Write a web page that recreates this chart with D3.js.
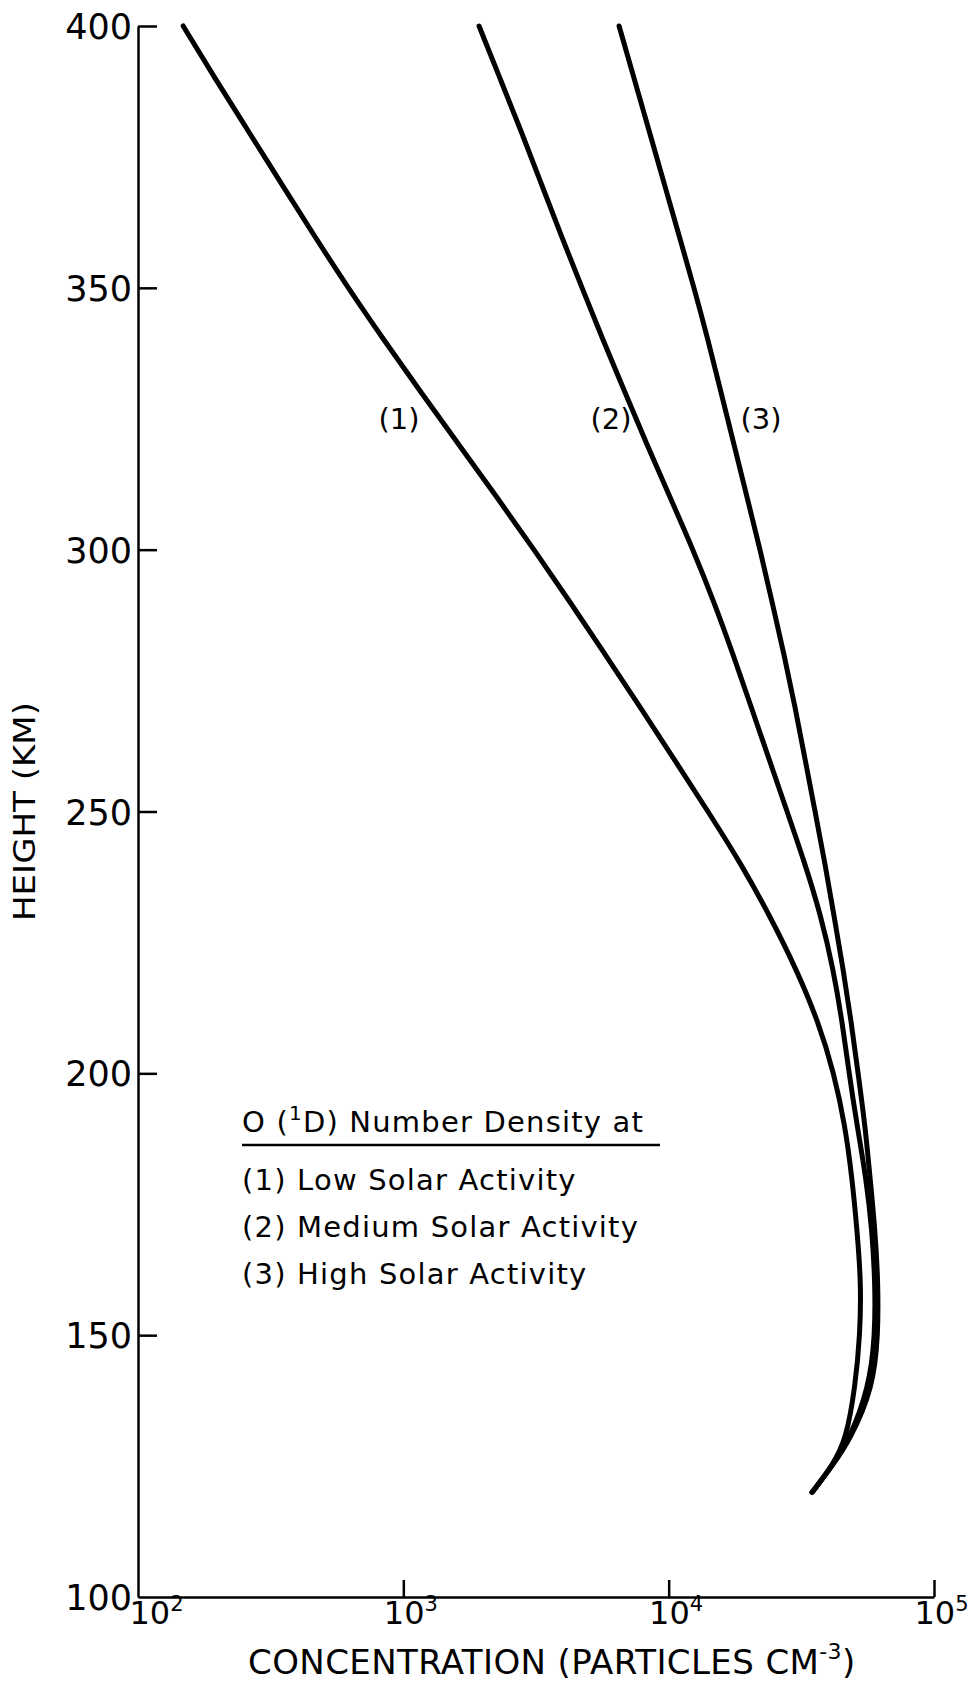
<!DOCTYPE html>
<html>
<head>
<meta charset="utf-8">
<script src="https://cdn.jsdelivr.net/npm/d3@7"></script>
<style>
  body { margin: 0; background: #ffffff; }
  svg text { font-family: "DejaVu Sans", sans-serif; fill: #000; }
</style>
</head>
<body>
<div id="grafiekContainer"></div>
<script>

var hoogtes = [400, 390, 380, 370, 360, 350, 340, 330, 320, 310, 300, 290, 280, 270, 260,
               250, 240, 230, 220, 210, 200, 190, 180, 170, 160, 150, 140, 130, 125, 120];

// concentratie (deeltjes per cm3) per curve
var laag = [148, 195, 260, 346, 461, 619, 846, 1166, 1622, 2255, 3109, 4250, 5758, 7803, 10480,
            14080, 18750, 24110, 30210, 36570, 42020, 46220, 49120, 51300, 53110, 52650, 50420, 46630, 41300, 34720];
var midden = [1929, 2314, 2777, 3304, 3930, 4717, 5659, 6849, 8292, 10120, 12360, 14830, 17490, 20450, 23900,
              27940, 32660, 37530, 41660, 45040, 47860, 51300, 55470, 58440, 59980, 59980, 56930, 47860, 41300, 34720];
var hoog = [6503, 7407, 8437, 9609, 10940, 12470, 14080, 15760, 17640, 19750, 22110, 24530, 27220, 29950, 32660,
            35630, 38860, 42020, 45430, 48700, 51750, 55000, 57430, 59980, 61560, 61560, 58950, 48280, 41300, 34720];

var hoogteTicks = [100, 150, 200, 250, 300, 350, 400];
var concTicks = [1e2, 1e3, 1e4, 1e5];
var exponenten = ["2", "3", "4", "5"];

var curveNamen = ["(1)", "(2)", "(3)"];
var legendaRegels = ["(1) Low Solar Activity", "(2) Medium Solar Activity", "(3) High Solar Activity"];

var breedte = 972;
var hoogte = 1687;
var marge = {boven: 26, beneden: 90, rechts: 38, links: 138};
var grafiekBreedte = breedte - marge.links - marge.rechts;
var grafiekHoogte = hoogte - marge.boven - marge.beneden;

var svg = d3.select("#grafiekContainer")
            .append("svg")
            .attr("width", breedte)
            .attr("height", hoogte)
            .append("g")
            .attr("transform", "translate(" + marge.links + "," + marge.boven + ")");

// schalen
var x = d3.scaleLog()
          .domain([1e2, 1e5])
          .range([0, grafiekBreedte]);

var y = d3.scaleLinear()
          .domain([100, 400])
          .range([grafiekHoogte, 0]);

// y-as met tickjes naar binnen
var yAs = svg.append("g")
             .attr("class", "y-as")
             .call(d3.axisLeft(y)
                     .tickValues(hoogteTicks)
                     .tickSizeInner(-19)
                     .tickSizeOuter(0)
                     .tickPadding(6));

yAs.selectAll("text")
   .attr("font-size", 35)
   .attr("font-family", "DejaVu Sans")
   .attr("dy", "0.36em");

// x-as
var xAs = svg.append("g")
             .attr("class", "x-as")
             .attr("transform", "translate(0," + grafiekHoogte + ")")
             .call(d3.axisBottom(x)
                     .tickValues(concTicks)
                     .tickFormat("")
                     .tickSizeInner(-17)
                     .tickSizeOuter(0));

xAs.selectAll(".tick text")
   .attr("font-size", 32)
   .attr("font-family", "DejaVu Sans")
   .attr("y", 27)
   .attr("dy", 0)
   .attr("x", function(d, i) { return i == 0 ? 18 : 7; })
   .each(function(d, i) {
     var t = d3.select(this);
     t.append("tspan").text("10");
     t.append("tspan")
      .attr("font-size", 21)
      .attr("dy", -13)
      .text(exponenten[i]);
   });

svg.selectAll(".domain, .tick line")
   .attr("stroke", "#000")
   .attr("stroke-width", 2.5);

svg.selectAll(".y-as .tick").filter(function(d) { return d == 100; })
   .select("line").remove();
svg.selectAll(".x-as .tick").filter(function(d) { return d == 1e2; })
   .select("line").remove();

// curves
var lijn = d3.line()
             .x(function(d) { return x(d[0]); })
             .y(function(d) { return y(d[1]); })
             .curve(d3.curveBasis);

[laag, midden, hoog].forEach(function(reeks) {
  svg.append("path")
     .datum(reeks.map(function(c, i) { return [c, hoogtes[i]]; }))
     .attr("fill", "none")
     .attr("stroke", "#000")
     .attr("stroke-width", 5)
     .attr("stroke-linecap", "round")
     .attr("stroke-linejoin", "round")
     .attr("d", lijn);
});

// namen bij de curves
var labelPlek = [[963, 325], [6067, 325], [22280, 325]];
svg.selectAll(".curvenaam")
   .data(curveNamen)
   .enter()
   .append("text")
   .attr("class", "curvenaam")
   .attr("x", function(d, i) { return x(labelPlek[i][0]); })
   .attr("y", function(d, i) { return y(labelPlek[i][1]); })
   .attr("dy", "0.36em")
   .attr("text-anchor", "middle")
   .attr("font-size", 29)
   .text(function(d) { return d; });

// legenda
var legenda = svg.append("g")
                 .attr("class", "legenda")
                 .attr("transform", "translate(104,0)");

var titel = legenda.append("text")
                   .attr("x", 0)
                   .attr("y", 1106)
                   .attr("font-size", 29)
                   .attr("letter-spacing", 1.2);
titel.append("tspan").text("O (");
titel.append("tspan").attr("font-size", 20).attr("dy", -12).text("1");
titel.append("tspan").attr("dy", 12).text("D) Number Density at");

legenda.append("line")
       .attr("x1", 0)
       .attr("x2", 418)
       .attr("y1", 1119)
       .attr("y2", 1119)
       .attr("stroke", "#000")
       .attr("stroke-width", 2.5);

legenda.selectAll(".regel")
       .data(legendaRegels)
       .enter()
       .append("text")
       .attr("class", "regel")
       .attr("x", 0)
       .attr("y", function(d, i) { return 1164 + i * 47; })
       .attr("font-size", 29)
       .attr("letter-spacing", 1.2)
       .text(function(d) { return d; });

// astitels
svg.append("text")
   .attr("transform", "translate(" + (-103) + "," + y(250) + ") rotate(-90)")
   .attr("text-anchor", "middle")
   .attr("font-size", 31)
   .attr("textLength", 219)
   .attr("lengthAdjust", "spacingAndGlyphs")
   .text("HEIGHT (KM)");

var xTitel = svg.append("text")
                .attr("x", 110)
                .attr("y", grafiekHoogte + 77)
                .attr("font-size", 34)
                .attr("letter-spacing", 0.4);
xTitel.append("tspan").text("CONCENTRATION (PARTICLES CM");
xTitel.append("tspan").attr("font-size", 22).attr("dy", -15).text("-3");
xTitel.append("tspan").attr("dy", 15).text(")");

</script>
</body>
</html>
